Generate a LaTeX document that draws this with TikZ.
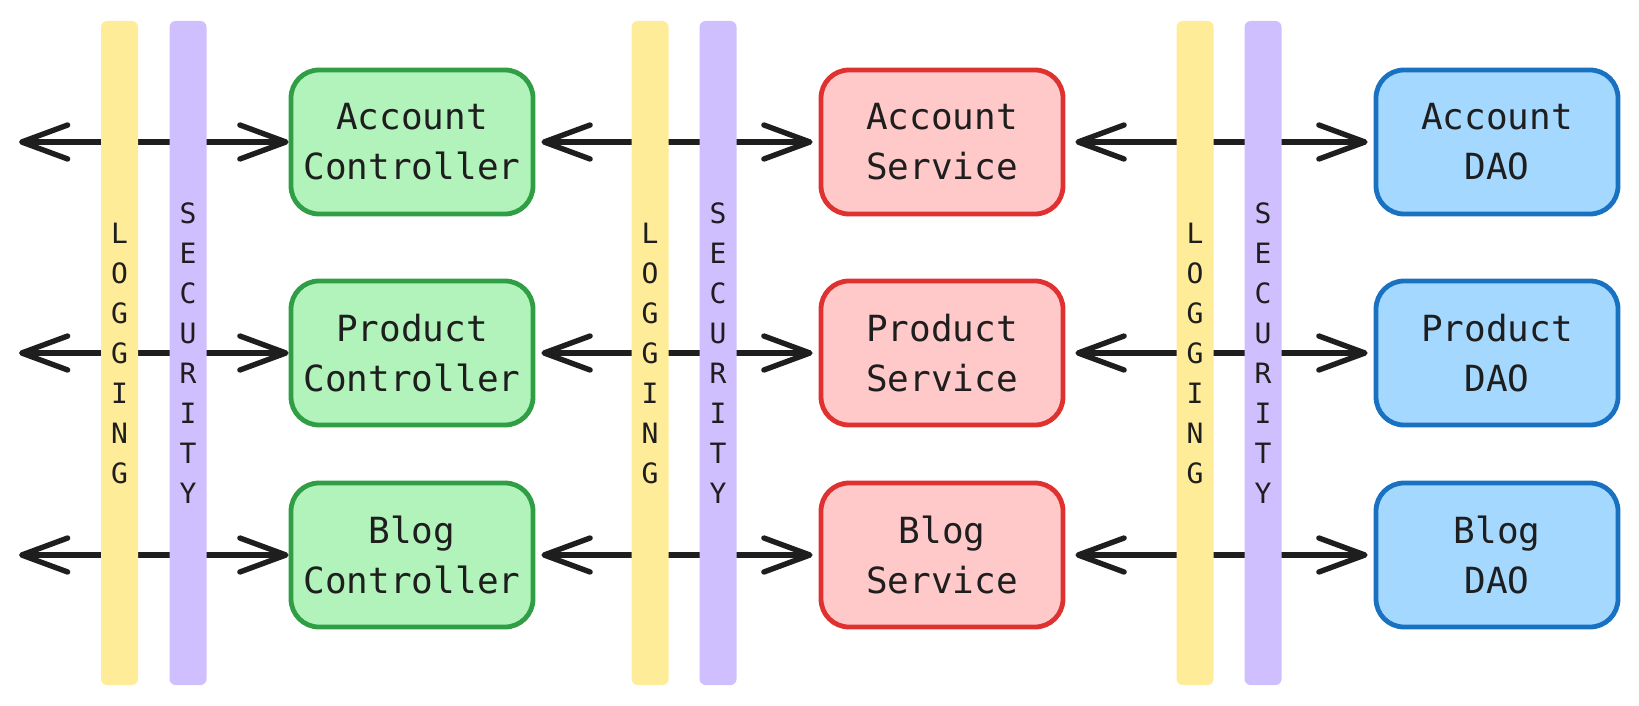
\documentclass[tikz,border=0pt]{standalone}
\usepackage{fontspec}
\setmonofont{DejaVu Sans Mono}
\usetikzlibrary{arrows.meta}
\definecolor{ink}{HTML}{1E1E1E}
\definecolor{ctrlfill}{HTML}{B2F2BB}
\definecolor{ctrlline}{HTML}{2F9E44}
\definecolor{srvfill}{HTML}{FFC9C9}
\definecolor{srvline}{HTML}{E03131}
\definecolor{daofill}{HTML}{A5D8FF}
\definecolor{daoline}{HTML}{1971C2}
\definecolor{logfill}{HTML}{FFEC99}
\definecolor{secfill}{HTML}{D0BFFF}
\begin{document}
\begin{tikzpicture}[x = 0.5pt, y = -0.5pt,
    box/.style = {rounded corners = 14pt, line width = 2.4pt, minimum width = 121pt, minimum height = 72pt,
                  inner sep = 0pt, align = center, text = ink, font = \ttfamily\fontsize{18}{25}\selectfont},
    ctrl/.style = {box, draw = ctrlline, fill = ctrlfill},
    srv/.style = {box, draw = srvline, fill = srvfill},
    dao/.style = {box, draw = daoline, fill = daofill},
    bar/.style = {rounded corners = 3pt, minimum width = 18.5pt, minimum height = 332pt, inner sep = 0pt,
                  align = center, text = ink, font = \ttfamily\fontsize{14}{20}\selectfont},
    flow/.style = {line width = 2.7pt, draw = ink, line cap = round,
                   {Straight Barb[length = 23pt, width = 17pt, round]}-{Straight Barb[length = 23pt, width = 17pt, round]}}]
    \useasboundingbox (0,0) rectangle (1639,706);
    % boxes
    \node[ctrl] (accctrl) at (412,142) {Account\\Controller};
    \node[ctrl] (prodctrl) at (412,353) {Product\\Controller};
    \node[ctrl] (blogctrl) at (412,555) {Blog\\Controller};
    \node[srv] (accsrv) at (942,142) {Account\\Service};
    \node[srv] (prodsrv) at (942,353) {Product\\Service};
    \node[srv] (blogsrv) at (942,555) {Blog\\Service};
    \node[dao] (accdao) at (1497,142) {Account\\DAO};
    \node[dao] (proddao) at (1497,353) {Product\\DAO};
    \node[dao] (blogdao) at (1497,555) {Blog\\DAO};
    % free ends on the left
    \coordinate (accin) at (19,142);
    \coordinate (prodin) at (19,353);
    \coordinate (blogin) at (19,555);
    % arrows
    \draw[flow] (accin) -- (accctrl.west);
    \draw[flow] (prodin) -- (prodctrl.west);
    \draw[flow] (blogin) -- (blogctrl.west);
    \draw[flow, shorten < = 3pt, shorten > = 3pt] (accctrl.east) -- (accsrv.west);
    \draw[flow, shorten < = 3pt, shorten > = 3pt] (prodctrl.east) -- (prodsrv.west);
    \draw[flow, shorten < = 3pt, shorten > = 3pt] (blogctrl.east) -- (blogsrv.west);
    \draw[flow, shorten < = 5pt, shorten > = 3pt] (accsrv.east) -- (accdao.west);
    \draw[flow, shorten < = 5pt, shorten > = 3pt] (prodsrv.east) -- (proddao.west);
    \draw[flow, shorten < = 5pt, shorten > = 3pt] (blogsrv.east) -- (blogdao.west);
    % cross-cutting bars
    \node[bar, fill = logfill] (logA) at (119.5,353) {L\\O\\G\\G\\I\\N\\G};
    \node[bar, fill = secfill] (secA) at (188,353) {S\\E\\C\\U\\R\\I\\T\\Y};
    \node[bar, fill = logfill] (logB) at (650,353) {L\\O\\G\\G\\I\\N\\G};
    \node[bar, fill = secfill] (secB) at (718,353) {S\\E\\C\\U\\R\\I\\T\\Y};
    \node[bar, fill = logfill] (logC) at (1195,353) {L\\O\\G\\G\\I\\N\\G};
    \node[bar, fill = secfill] (secC) at (1263,353) {S\\E\\C\\U\\R\\I\\T\\Y};
\end{tikzpicture}
\end{document}
